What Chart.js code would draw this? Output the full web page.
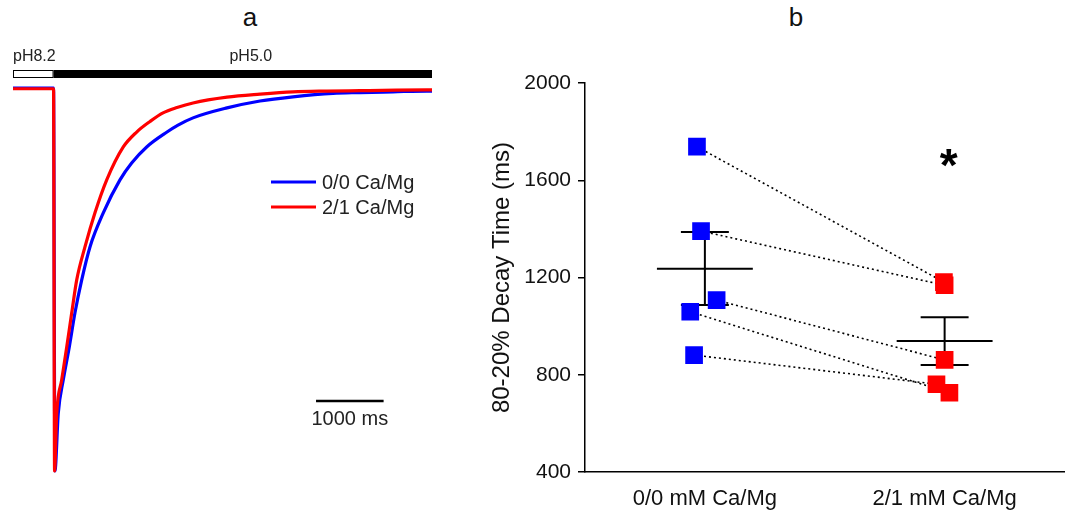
<!DOCTYPE html>
<html lang="en">
<head>
  <meta charset="UTF-8" />
  <title>Decay time: 0/0 vs 2/1 Ca/Mg</title>
  <script src="https://cdn.jsdelivr.net/npm/chart.js"></script>
  <style>
    body {
      margin: 0;
      background: #fff;
      font-family: Arial, "Liberation Sans", sans-serif;
    }

    .figure {
      position: relative;
      width: 1077px;
      height: 510px;
    }

    #traceBox {
      position: absolute;
      left: 0;
      top: 0;
      width: 440px;
      height: 510px;
    }

    #decayBox {
      position: absolute;
      left: 440px;
      top: 0;
      width: 637px;
      height: 510px;
    }

    .panel-label {
      position: absolute;
      top: 0;
      width: 40px;
      margin-left: -20px;
      text-align: center;
      font: 26px "Liberation Sans Narrow", "Arial Narrow", sans-serif;
      line-height: 34px;
      color: #111;
    }
  </style>
</head>
<body>

  <div class="figure">
    <div class="panel-label" style="left: 250px;">a</div>
    <div class="panel-label" style="left: 796px;">b</div>

    <!-- panel a: current traces -->
    <div id="traceBox"><canvas id="traceChart"></canvas></div>

    <!-- panel b: decay time per cell -->
    <div id="decayBox"><canvas id="decayChart"></canvas></div>
  </div>

  <script>
    // ---- panel a: normalised current traces (time in ms) ----
    const blueTime = [0, 600, 620, 670, 744, 833, 917, 1017, 1139, 1336, 1583, 1756, 1978, 2279, 2442, 2664, 3167, 3655, 4143, 4735, 5135, 5623, 6126, 6200];
    const blueCurrent = [0, 0, -1.0, -0.849, -0.762, -0.676, -0.587, -0.501, -0.415, -0.326, -0.240, -0.196, -0.154, -0.115, -0.097, -0.078, -0.052, -0.034, -0.023, -0.014, -0.012, -0.010, -0.008, -0.008];

    const redTime = [0, 600, 615, 647, 721, 795, 869, 943, 1065, 1213, 1387, 1632, 1830, 2027, 2220, 2427, 2664, 3167, 3655, 4143, 4646, 5135, 6126, 6200];
    const redCurrent = [-0.002, -0.002, -1.0, -0.849, -0.762, -0.676, -0.587, -0.501, -0.415, -0.326, -0.240, -0.154, -0.115, -0.0875, -0.065, -0.051, -0.039, -0.024, -0.016, -0.010, -0.008, -0.007, -0.005, -0.005];

    const traceLabels = ['0/0 Ca/Mg', '2/1 Ca/Mg'];
    const traceColors = ['#0000ff', '#ff0000'];

    // solution protocol bar
    const phLabels = ['pH8.2', 'pH5.0'];
    const phStart = [0, 600];
    const phEnd = [600, 6200];

    const scaleBarMs = 1000;
    const scaleBarStart = 4484;

    // ---- panel b: 80-20% decay time (ms) ----
    const groupNames = ['0/0 mM Ca/Mg', '2/1 mM Ca/Mg'];
    const groupPos = [1, 2];

    const blueDecay = [1738, 1391, 1107, 1059, 881];
    const blueX = [0.967, 0.984, 1.049, 0.939, 0.955];

    const redDecay = [1181, 1168, 861, 761, 726];
    const redX = [1.997, 2.0, 2.0, 1.966, 2.02];

    // which red point each blue point is paired with
    const pairIndex = [0, 1, 2, 4, 3];

    const groupMean = [1236, 939];
    const groupSemLow = [1087, 840];
    const groupSemHigh = [1387, 1037];

    const yTicks = [400, 800, 1200, 1600, 2000];

    // ---------- panel a ----------
    const traceExtras = {
      id: 'traceExtras',
      afterDatasetsDraw(chart) {
        const { ctx, chartArea, scales } = chart;
        const x = scales.x;
        ctx.save();

        // pH bar
        const barTop = chartArea.top - 18;
        const barH = 8;
        phLabels.forEach((lab, i) => {
          const x0 = x.getPixelForValue(phStart[i]);
          const x1 = x.getPixelForValue(phEnd[i]);
          if (i === 0) {
            ctx.fillStyle = '#fff';
            ctx.fillRect(x0, barTop, x1 - x0, barH);
            ctx.strokeStyle = '#000';
            ctx.lineWidth = 1;
            ctx.strokeRect(x0 + 0.5, barTop + 0.5, x1 - x0 - 1, barH - 1);
          } else {
            ctx.fillStyle = '#000';
            ctx.fillRect(x0, barTop, x1 - x0, barH);
          }
          ctx.fillStyle = '#222';
          ctx.font = '16px Arial, "Liberation Sans", sans-serif';
          ctx.textBaseline = 'alphabetic';
          if (i === 0) {
            ctx.textAlign = 'left';
            ctx.fillText(lab, x0, barTop - 9);
          } else {
            ctx.textAlign = 'center';
            ctx.fillText(lab, (x0 + x1) / 2 + 8, barTop - 9);
          }
        });

        // legend
        ctx.font = '20px Arial, "Liberation Sans", sans-serif';
        ctx.textAlign = 'left';
        ctx.textBaseline = 'middle';
        traceLabels.forEach((lab, i) => {
          const ly = 182 + i * 25;
          ctx.strokeStyle = traceColors[i];
          ctx.lineWidth = 3;
          ctx.beginPath();
          ctx.moveTo(271, ly);
          ctx.lineTo(316, ly);
          ctx.stroke();
          ctx.fillStyle = '#222';
          ctx.fillText(lab, 322, ly + 1);
        });

        // time scale bar
        const sx0 = x.getPixelForValue(scaleBarStart);
        const sx1 = x.getPixelForValue(scaleBarStart + scaleBarMs);
        ctx.strokeStyle = '#000';
        ctx.lineWidth = 2.5;
        ctx.beginPath();
        ctx.moveTo(sx0, 401);
        ctx.lineTo(sx1, 401);
        ctx.stroke();
        ctx.fillStyle = '#222';
        ctx.textAlign = 'center';
        ctx.textBaseline = 'alphabetic';
        ctx.fillText(scaleBarMs + ' ms', (sx0 + sx1) / 2, 425);

        ctx.restore();
      }
    };

    new Chart(document.getElementById('traceChart'), {
      type: 'line',
      data: {
        datasets: [
          {
            label: traceLabels[1],
            data: redTime.map((t, i) => ({ x: t, y: redCurrent[i] })),
            borderColor: traceColors[1],
            borderWidth: 3.2,
            pointRadius: 0,
            cubicInterpolationMode: 'monotone',
            borderJoinStyle: 'round',
            clip: false
          },
          {
            label: traceLabels[0],
            data: blueTime.map((t, i) => ({ x: t, y: blueCurrent[i] })),
            borderColor: traceColors[0],
            borderWidth: 3.2,
            pointRadius: 0,
            cubicInterpolationMode: 'monotone',
            borderJoinStyle: 'round',
            clip: false
          }
        ]
      },
      options: {
        responsive: true,
        maintainAspectRatio: false,
        animation: false,
        layout: { padding: { left: 13, right: 8, top: 88, bottom: 39 } },
        plugins: { legend: { display: false }, tooltip: { enabled: false } },
        scales: {
          x: { type: 'linear', min: 0, max: 6200, display: false },
          y: { min: -1, max: 0, display: false }
        }
      },
      plugins: [traceExtras]
    });

    // ---------- panel b ----------
    const meanHalf = 0.2;
    const capHalf = 0.1;

    const pairLines = blueDecay.map((v, i) => ({
      type: 'line',
      data: [
        { x: blueX[i], y: v },
        { x: redX[pairIndex[i]], y: redDecay[pairIndex[i]] }
      ],
      borderColor: '#000',
      borderWidth: 1.6,
      borderDash: [2, 3],
      pointRadius: 0,
      fill: false,
      order: 3
    }));

    const errorBars = groupPos.map((gx, i) => ({
      type: 'line',
      data: [
        { x: gx - meanHalf, y: groupMean[i] }, { x: gx + meanHalf, y: groupMean[i] }, { x: gx, y: null },
        { x: gx - capHalf, y: groupSemHigh[i] }, { x: gx + capHalf, y: groupSemHigh[i] }, { x: gx, y: null },
        { x: gx - capHalf, y: groupSemLow[i] }, { x: gx + capHalf, y: groupSemLow[i] }, { x: gx, y: null },
        { x: gx, y: groupSemLow[i] }, { x: gx, y: groupSemHigh[i] }
      ],
      borderColor: '#000',
      borderWidth: 2,
      pointRadius: 0,
      spanGaps: false,
      fill: false,
      order: 2
    }));

    const starMark = {
      id: 'starMark',
      afterDatasetsDraw(chart) {
        const { ctx, scales } = chart;
        ctx.save();
        ctx.fillStyle = '#000';
        ctx.font = 'bold 46px Arial, "Liberation Sans", sans-serif';
        ctx.textAlign = 'center';
        ctx.textBaseline = 'alphabetic';
        ctx.fillText('*', scales.x.getPixelForValue(groupPos[1]) + 4, 181);
        ctx.restore();
      }
    };

    new Chart(document.getElementById('decayChart'), {
      type: 'scatter',
      data: {
        datasets: [
          {
            label: groupNames[0],
            data: blueDecay.map((v, i) => ({ x: blueX[i], y: v })),
            backgroundColor: '#0000ff',
            borderWidth: 0,
            pointStyle: 'rect',
            pointRadius: 12.5,
            order: 1
          },
          {
            label: groupNames[1],
            data: redDecay.map((v, i) => ({ x: redX[i], y: v })),
            backgroundColor: '#ff0000',
            borderWidth: 0,
            pointStyle: 'rect',
            pointRadius: 12.5,
            order: 1
          },
          ...errorBars,
          ...pairLines
        ]
      },
      options: {
        responsive: true,
        maintainAspectRatio: false,
        animation: false,
        layout: { padding: { left: 0, right: 4, top: 83, bottom: 0 } },
        plugins: { legend: { display: false }, tooltip: { enabled: false } },
        scales: {
          x: {
            type: 'linear',
            min: 0.5,
            max: 2.5,
            afterBuildTicks: s => { s.ticks = groupPos.map(v => ({ value: v })); },
            afterFit: s => { s.height = 38; },
            grid: { display: false, drawTicks: false },
            border: { display: true, color: '#000', width: 1.5 },
            ticks: {
              callback: (v, i) => groupNames[i],
              color: '#111',
              padding: 14,
              maxRotation: 0,
              font: { family: 'Arial, "Liberation Sans", sans-serif', size: 22 }
            }
          },
          y: {
            min: 400,
            max: 2000,
            afterBuildTicks: s => { s.ticks = yTicks.map(v => ({ value: v })); },
            afterFit: s => { s.width = 145; },
            grid: { drawOnChartArea: false, drawTicks: true, tickLength: 7, color: '#000', lineWidth: 1.5 },
            border: { display: true, color: '#000', width: 1.5 },
            ticks: {
              callback: v => String(v),
              color: '#111',
              padding: 7,
              font: { family: 'Arial, "Liberation Sans", sans-serif', size: 21 }
            },
            title: {
              display: true,
              text: '80-20% Decay Time (ms)',
              color: '#111',
              padding: { top: 48, bottom: 0 },
              font: { family: 'Arial, "Liberation Sans", sans-serif', size: 24 }
            }
          }
        }
      },
      plugins: [starMark]
    });
  </script>
</body>
</html>
